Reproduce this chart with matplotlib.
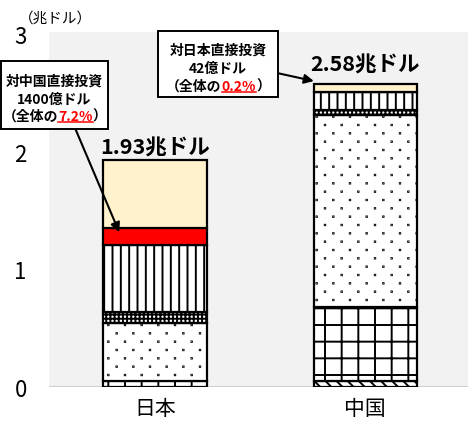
import warnings
warnings.filterwarnings('ignore')
import numpy as np
import matplotlib
matplotlib.use('Agg')
import matplotlib.pyplot as plt
import matplotlib.hatch as mhatch
from matplotlib.path import Path
from matplotlib.patches import Rectangle
from matplotlib.lines import Line2D

FAM = ['Noto Sans CJK JP', 'DejaVu Sans']
plt.rcParams['font.family'] = FAM
plt.rcParams['hatch.linewidth'] = 1.4

# ---------------- data ----------------
countries = ['日本', '中国']
segment_names = ['斜線', '格子', '点', '密', '縦線', '相手国', 'その他']
japan = [0.0, 0.05, 0.49, 0.10, 0.57, 0.14, 0.58]
china = [0.05, 0.63, 1.635, 0.04, 0.15, 0.0042, 0.07]
totals = [1.93, 2.58]
total_labels = ['1.93兆ドル', '2.58兆ドル']
yticks = [0, 1, 2, 3]
unit_label = '（兆ドル）'
callout_left = ['対中国直接投資', '1400億ドル', ('（全体の', '7.2%', '）')]
callout_right = ['対日本直接投資', '42億ドル', ('（全体の', '0.2%', '）')]


# custom staggered dot hatch ('d'): 6 columns, 12 rows per tile
class _StaggerDots(mhatch.HatchPatternBase):
    def __init__(self, hatch, density):
        n = hatch.count('d') * density
        pts = []
        if n:
            rows = 2 * n
            for r in range(rows + 1):
                y = r / rows
                if r % 2 == 0:
                    xs = np.linspace(0, 1, n + 1)
                else:
                    xs = np.linspace(0.5 / n, 1 - 0.5 / n, n)
                pts += [(xx, y) for xx in xs]
        self.pts = pts
        self.num_vertices = len(pts) * 5

    def set_vertices_and_codes(self, vertices, codes):
        s = 0.002
        sq = np.array([[-s, -s], [s, -s], [s, s], [-s, s], [-s, -s]])
        for i, (xx, yy) in enumerate(self.pts):
            vertices[i * 5:(i + 1) * 5] = sq + np.array([xx, yy])
            codes[i * 5:(i + 1) * 5] = [Path.MOVETO, Path.LINETO, Path.LINETO,
                                        Path.LINETO, Path.CLOSEPOLY]


mhatch._hatch_types.append(_StaggerDots)

styles = [('white', '\\\\\\'), ('white', '+'), ('white', 'd'), ('white', '++++'),
          ('white', '||'), ('#FF0000', None), ('#FFF2CC', None)]

W, H = 468, 435
fig = plt.figure(figsize=(W / 100, H / 100), dpi=100)
ax = fig.add_axes([49 / W, 47 / H, 419 / W, 355 / H])
ax.set_facecolor('#F2F2F2')
for sp in ax.spines.values():
    sp.set_visible(False)

x = np.arange(len(countries))
width = 0.49
vals = np.array([japan, china])
bottoms = np.zeros(len(countries))
seg_bottoms = {}
for j, name in enumerate(segment_names):
    face, hatch = styles[j]
    for i in range(len(countries)):
        seg_bottoms[(i, j)] = bottoms[i]
        if vals[i, j] > 0:
            ax.bar(x[i], vals[i, j], width, bottom=bottoms[i], color=face,
                   edgecolor='black', linewidth=1.6, hatch=hatch, zorder=2)
    bottoms += vals[:, j]

ax.axhline(0, color='#D0D0D0', lw=1.5, zorder=1)
ax.set_xlim(-0.504, 1.488)
ax.set_ylim(0, 3.017)
ax.set_yticks(yticks)
ax.set_yticklabels([str(t) for t in yticks], fontsize=16)
ax.set_xticks(x)
ax.set_xticklabels(countries, fontsize=15)
ax.tick_params(axis='y', length=0, pad=16)
ax.tick_params(axis='x', length=0, pad=7)

# totals
offsets = [0.11, 0.165]
for i in range(len(countries)):
    ax.text(x[i], totals[i] + offsets[i], total_labels[i], ha='center', va='center',
            fontsize=15.5, fontweight='bold')

fig.text(55 / W, 1 - 19 / H, unit_label, ha='center', va='center', fontsize=10.5)


def fpos(px, py):
    return (px / W, 1 - py / H)


renderer = fig.canvas.get_renderer()


def rich_line(cx, cy, parts, size):
    ts = []
    for s, color, ul in parts:
        t = fig.text(0, 0, s, color=color, fontsize=size, fontweight='bold',
                     va='center', ha='left')
        ts.append(t)
    ws = [t.get_window_extent(renderer).width for t in ts]
    xs = cx - sum(ws) / 2
    for t, w, (s, color, ul) in zip(ts, ws, parts):
        t.set_position(fpos(xs, cy))
        if ul:
            ln = Line2D([xs / W, (xs + w) / W], [1 - (cy + 6) / H] * 2,
                        color=color, lw=1.1, transform=fig.transFigure)
            fig.add_artist(ln)
        xs += w


def callout(x0, y0, x1, y1, lines, line_ys, size):
    fig.add_artist(Rectangle(fpos(x0, y1), (x1 - x0) / W, (y1 - y0) / H,
                             transform=fig.transFigure, facecolor='white',
                             edgecolor='black', lw=1.4, zorder=2))
    cx = (x0 + x1) / 2
    for ln, ly in zip(lines, line_ys):
        if isinstance(ln, tuple):
            rich_line(cx, ly, [(ln[0], 'black', False), (ln[1], '#FF0000', True),
                               (ln[2], 'black', False)], size)
        else:
            fig.text(*fpos(cx, ly), ln, ha='center', va='center', fontsize=size,
                     fontweight='bold')


callout(1, 62, 108, 130, callout_left, [82, 99.5, 117], 10)
callout(158, 32, 278, 98, callout_right, [51, 69, 87], 10)

# arrows
red_j = segment_names.index('相手国')
tip_left = (x[0] - 0.17, seg_bottoms[(0, red_j)] + 0.75 * vals[0, red_j])
ax.annotate('', xy=tip_left, xytext=fpos(75, 129), textcoords='figure fraction',
            arrowprops=dict(arrowstyle='-|>', color='black', lw=1.5,
                            mutation_scale=14, shrinkA=0, shrinkB=0),
            annotation_clip=False, zorder=5)
tip_right = (x[1] - width / 2, totals[1] + 0.02)
ax.annotate('', xy=tip_right, xytext=fpos(277, 74), textcoords='figure fraction',
            arrowprops=dict(arrowstyle='-|>', color='black', lw=1.5,
                            mutation_scale=14, shrinkA=0, shrinkB=0),
            annotation_clip=False, zorder=5)

fig.savefig('out.png', dpi=100)
